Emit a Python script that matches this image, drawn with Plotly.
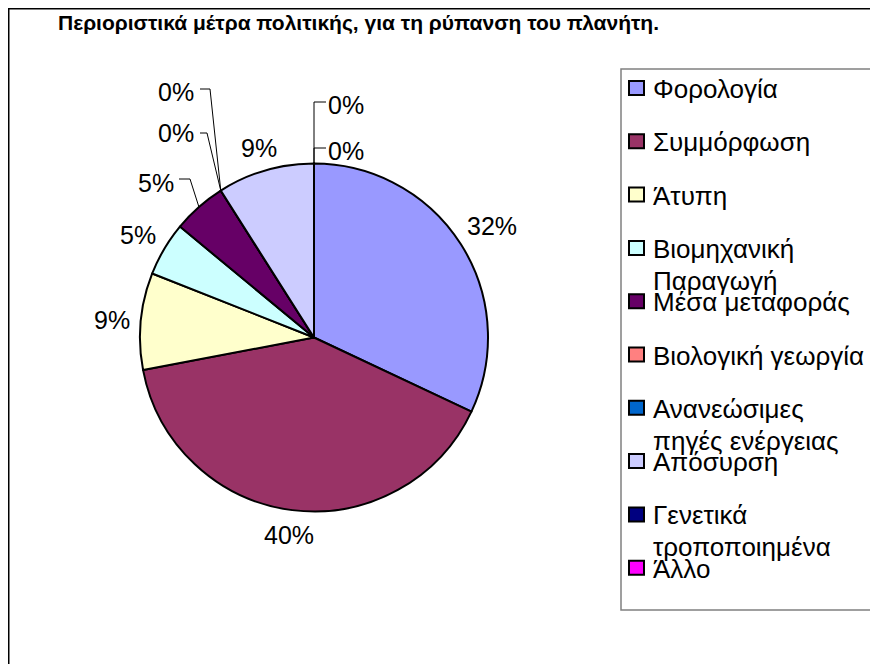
import math
import plotly.graph_objects as go

# Περιοριστικά μέτρα
categories = [
    "Φορολογία",
    "Συμμόρφωση",
    "Άτυπη",
    "Βιομηχανική Παραγωγή",
    "Μέσα μεταφοράς",
    "Βιολογική γεωργία",
    "Ανανεώσιμες πηγές ενέργειας",
    "Απόσυρση",
    "Γενετικά τροποποιημένα",
    "Άλλο",
]
values = [32, 40, 9, 5, 5, 0, 0, 9, 0, 0]
colors = ["#9999FF", "#993366", "#FFFFCC", "#CCFFFF", "#660066",
          "#FF8080", "#0066CC", "#CCCCFF", "#000080", "#FF00FF"]

TITLE = "Περιοριστικά μέτρα πολιτικής, για τη ρύπανση του πλανήτη."

W, H = 878, 664
OFF = 8  # the page body margin shifts the figure by 8px
FONT = "Arial, Liberation Sans, sans-serif"

# pie geometry in page pixels
CX, CY, R = 314, 337.5, 174


def px(x):
    return (x - OFF) / W


def py(y):
    return 1 - (y - OFF) / H


def rim_point(angle_deg, r=R):
    a = math.radians(angle_deg)
    return CX + r * math.sin(a), CY - r * math.cos(a)


fig = go.Figure()

fig.add_trace(go.Pie(
    labels=categories,
    values=values,
    sort=False,
    direction="clockwise",
    rotation=0,
    marker=dict(colors=colors, line=dict(color="black", width=2)),
    textinfo="none",
    hoverinfo="label+percent",
    showlegend=False,
    domain=dict(x=[px(CX - R), px(CX + R)], y=[py(CY + R), py(CY - R)]),
))

# data labels: moved ones get a leader line like in Excel
LBL_SIZE = 25
moved = {
    4: dict(pos=(156, 181), leader=[(179, 179), (190, 179)]),
    6: dict(pos=(176, 90), leader=[(200, 89), (210, 89)]),
    5: dict(pos=(176, 131), leader=[(200, 133), (207, 133)]),
    9: dict(pos=(346, 103), leader=[(326, 102), (314, 102)]),
    8: dict(pos=(346, 149), leader=[(326, 148), (314, 148)]),
}

total = sum(values)
annotations = []
shapes = []
cum = 0
for i, v in enumerate(values):
    start = cum / total * 360
    cum += v
    end = cum / total * 360
    mid = (start + end) / 2
    pct = f"{round(v / total * 100)}%"
    if i in moved:
        lx, ly = moved[i]["pos"]
        pts = moved[i]["leader"] + [rim_point(mid)]
        path = "M " + " L ".join(f"{px(x)},{py(y)}" for x, y in pts)
        shapes.append(dict(type="path", xref="paper", yref="paper", path=path,
                           line=dict(color="black", width=1)))
    else:
        # text box just outside the rim, Excel style
        hw = 0.5 * LBL_SIZE * (0.556 * (len(pct) - 1) + 0.889)
        hh = 10
        a = math.radians(mid)
        r_lab = R + 10 + abs(math.sin(a)) * hw + abs(math.cos(a)) * hh
        lx, ly = rim_point(mid, r_lab)
    annotations.append(dict(
        x=px(lx), y=py(ly + 1.5), xref="paper", yref="paper",
        text=pct, showarrow=False, xanchor="center", yanchor="middle",
        font=dict(family=FONT, size=LBL_SIZE, color="black"),
    ))

# title
annotations.append(dict(
    x=px(56), y=py(23), xref="paper", yref="paper",
    text="<b>" + TITLE + "</b>", showarrow=False,
    xanchor="left", yanchor="middle",
    font=dict(family=FONT, size=21, color="black"),
))

# chart frame
shapes.append(dict(type="rect", xref="paper", yref="paper",
                   x0=px(8.75), y0=py(8.75), x1=px(W + 40), y1=py(H + 40),
                   line=dict(color="black", width=1.5), fillcolor="rgba(0,0,0,0)"))

# legend box (Excel-style, drawn by hand)
shapes.append(dict(type="rect", xref="paper", yref="paper",
                   x0=px(621), y0=py(69), x1=px(W + 40), y1=py(610),
                   line=dict(color="#808080", width=1.5), fillcolor="white", layer="below"))

LEG_Y0, LEG_DY, LEG_LINE = 88, 53.3, 32
for i, (name, col) in enumerate(zip(categories, colors)):
    yc = LEG_Y0 + i * LEG_DY
    shapes.append(dict(type="rect", xref="paper", yref="paper",
                       x0=px(629), y0=py(yc - 7), x1=px(644), y1=py(yc + 7),
                       fillcolor=col, line=dict(color="black", width=2)))
    lines = name.split(" ", 1) if len(name) > 18 else [name]
    for k, line in enumerate(lines):
        annotations.append(dict(
            x=px(651), y=py(yc + k * LEG_LINE + 1), xref="paper", yref="paper",
            text=line, showarrow=False, xanchor="left", yanchor="middle",
            font=dict(family=FONT, size=26, color="black"),
        ))

fig.update_layout(
    width=W, height=H,
    margin=dict(l=0, r=0, t=0, b=0),
    paper_bgcolor="white",
    plot_bgcolor="white",
    annotations=annotations,
    shapes=shapes,
)

fig.write_html("out.html")
